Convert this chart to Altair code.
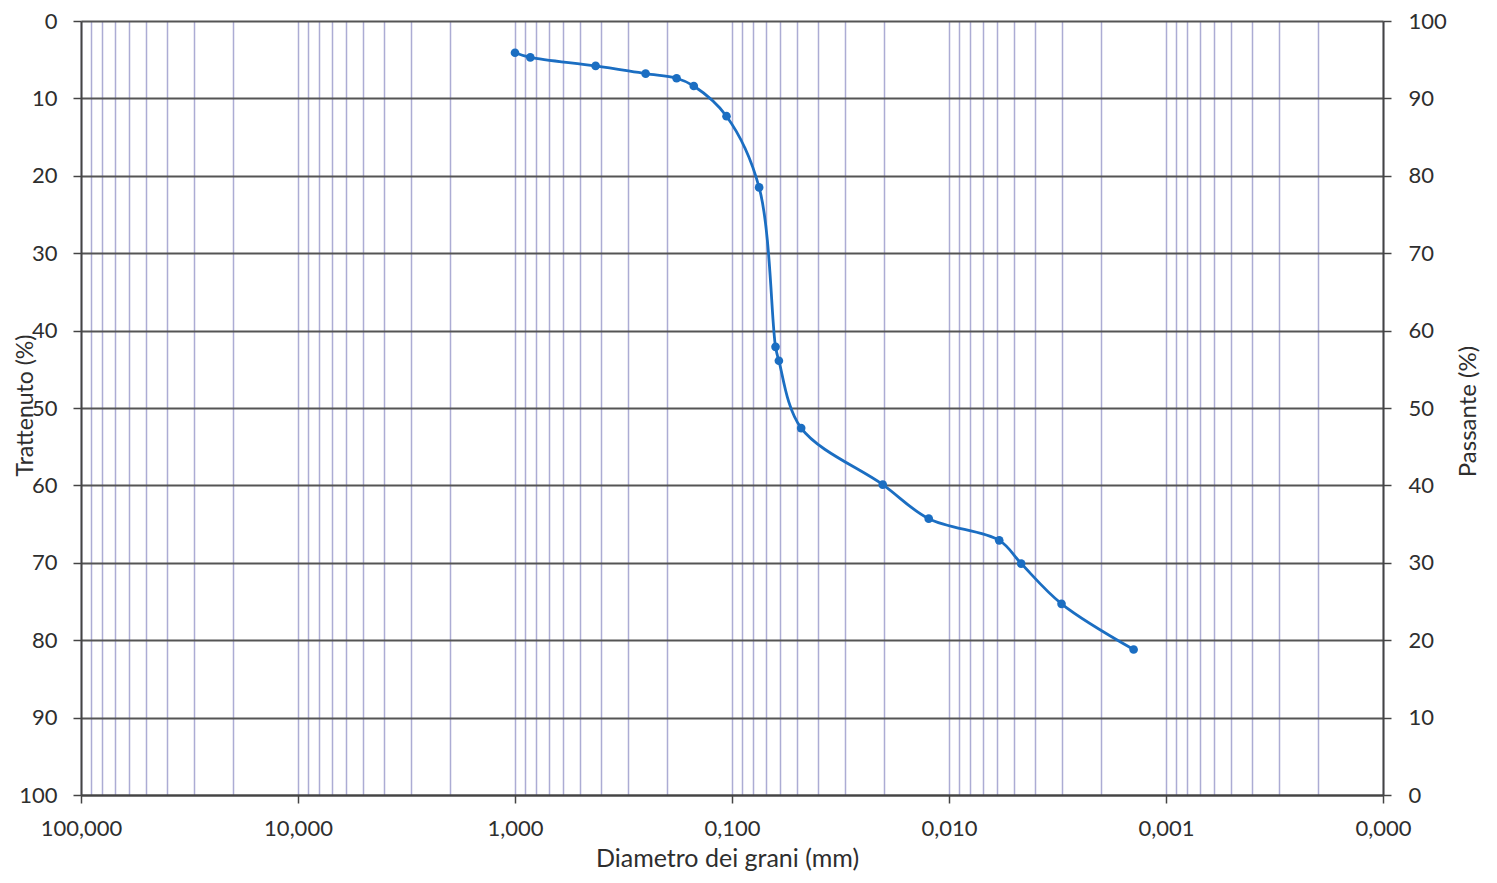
import altair as alt
import pandas as pd

# Diametro dei grani (mm) e Trattenuto (%)
diametro = [1.0, 0.85, 0.425, 0.25, 0.18, 0.15, 0.106, 0.075, 0.063, 0.0608,
            0.048, 0.0202, 0.0124, 0.00587, 0.00465, 0.00303, 0.00141]
trattenuto = [4.1, 4.7, 5.8, 6.8, 7.4, 8.4, 12.3, 21.5, 42.1, 43.9,
              52.6, 59.9, 64.3, 67.1, 70.1, 75.3, 81.2]

# posizioni della griglia logaritmica (asse x) e tick dell'asse y
decadi = [0.0001, 0.001, 0.01, 0.1, 1, 10]
mantisse = [1, 2, 3, 4, 5, 6, 7, 8, 9]
griglia_x = [m * d for d in decadi for m in mantisse] + [100]
tick_y = [0, 10, 20, 30, 40, 50, 60, 70, 80, 90, 100]

df = pd.DataFrame({"Diametro": diametro, "Trattenuto": trattenuto})

FONT = "Lato"
TXT = "#2e2e2e"
BLUE = "#1b6ec2"

is_decade = "abs(log(datum.value)/LN10 - round(log(datum.value)/LN10)) < 0.001"

xscale = alt.Scale(type="log", domain=[0.0001, 100], reverse=True, nice=False)
yscale = alt.Scale(domain=[0, 100], reverse=True, nice=False)

xaxis = alt.Axis(
    values=griglia_x,
    labelExpr=f"{is_decade} ? replace(format(datum.value, '.3f'), '.', ',') : ''",
    labelOverlap=False, labelFlush=False,
    labelFont=FONT, labelFontSize=22, labelColor=TXT, labelPadding=15,
    tickOpacity={"condition": {"test": is_decade, "value": 1}, "value": 0},
    tickSize=8, tickColor="#444444", tickWidth=1.5,
    grid=True, gridColor="#acacd4", gridWidth=1.5,
    domainColor="#444444", domainWidth=2,
    title="Diametro dei grani (mm)", titleFont=FONT, titleFontSize=25,
    titleFontWeight="normal", titleColor=TXT,
    titleX=646, titleY=63, titleBaseline="middle", titleAlign="center",
)

yaxis_left = alt.Axis(
    values=tick_y, orient="left",
    labelFont=FONT, labelFontSize=22, labelColor=TXT, labelPadding=16,
    tickSize=8, tickColor="#444444", tickWidth=1.5,
    grid=True, gridColor="#555555", gridWidth=2,
    domainColor="#444444", domainWidth=2,
    title="Trattenuto (%)", titleFont=FONT, titleFontSize=23,
    titleFontWeight="normal", titleColor=TXT,
    titleAngle=270, titleX=-56, titleY=384, titleAlign="center", titleBaseline="middle",
)

yaxis_right = alt.Axis(
    values=tick_y, orient="right",
    labelExpr="100 - datum.value",
    labelFont=FONT, labelFontSize=22, labelColor=TXT, labelPadding=17,
    tickSize=8, tickColor="#444444", tickWidth=1.5,
    grid=False,
    domainColor="#444444", domainWidth=2,
    title="Passante (%)", titleFont=FONT, titleFontSize=24,
    titleFontWeight="normal", titleColor=TXT,
    titleAngle=270, titleX=85, titleY=390, titleAlign="center", titleBaseline="middle",
)

base = alt.Chart(df)

linea = base.mark_line(interpolate="catmull-rom", color=BLUE, strokeWidth=2.8).encode(
    x=alt.X("Diametro:Q", scale=xscale, axis=xaxis),
    y=alt.Y("Trattenuto:Q", scale=yscale, axis=yaxis_left),
)

punti = base.mark_point(filled=True, size=75, color=BLUE, opacity=1).encode(
    x=alt.X("Diametro:Q", scale=xscale),
    y=alt.Y("Trattenuto:Q", scale=yscale, axis=yaxis_right),
)

chart = (
    alt.layer(linea, punti)
    .resolve_axis(y="independent")
    .properties(
        width=1302, height=774,
        autosize=alt.AutoSizeParams(type="none"),
        padding={"left": 73, "top": 13, "right": 100, "bottom": 77},
        background="white",
    )
    .configure_view(strokeWidth=0)
)

chart.save("out.html", embed_options={"renderer": "svg", "actions": False})
